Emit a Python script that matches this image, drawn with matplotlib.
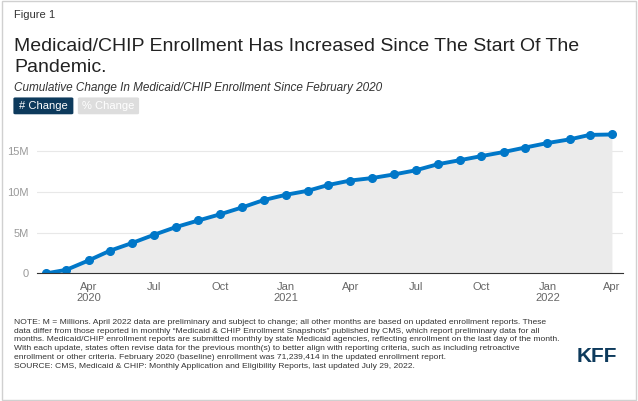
import matplotlib.pyplot as plt
from matplotlib.patches import FancyBboxPatch, Rectangle
import pandas as pd

plt.rcParams["font.family"] = ["Liberation Sans", "DejaVu Sans"]

# ------------------------------------------------------------
# Data (cumulative change, millions, since Feb 2020)
# ------------------------------------------------------------
MONTHS = pd.date_range("2020-02-01", "2022-04-01", freq="MS")
CHANGE_M = [0.0, 0.45, 1.6, 2.8, 3.75, 4.74, 5.7, 6.5, 7.25, 8.1, 9.0, 9.65,
            10.15, 10.85, 11.4, 11.7, 12.15, 12.65, 13.4, 13.9, 14.4, 14.9,
            15.45, 16.0, 16.45, 17.0, 17.05]
Y_TICKS = [0, 5, 10, 15]
Y_LABELS = ["0", "5M", "10M", "15M"]

BLUE = "#0077c8"
GREY_TXT = "#999999"

fig = plt.figure(figsize=(6.38, 4.01), dpi=100)
fig.patches.append(Rectangle((0.003, 0.003), 0.994, 0.994, transform=fig.transFigure,
                             fill=False, edgecolor="#d0d0d0", lw=1))

fig.text(0.022, 0.962, "Figure 1", fontsize=8, color="#333333", va="center")
fig.text(0.022, 0.885, "Medicaid/CHIP Enrollment Has Increased Since The Start Of The",
         fontsize=14, color="#222222", va="center")
fig.text(0.022, 0.832, "Pandemic.", fontsize=14, color="#222222", va="center")
fig.text(0.022, 0.780, "Cumulative Change In Medicaid/CHIP Enrollment Since February 2020",
         fontsize=8.5, style="italic", color="#333333", va="center")

fig.patches.append(FancyBboxPatch((0.024, 0.718), 0.088, 0.036, transform=fig.transFigure,
                                  boxstyle="round,pad=0.003", fc="#0d3a5c", ec="none"))
fig.text(0.068, 0.736, "# Change", fontsize=8, color="white", ha="center", va="center")
fig.patches.append(FancyBboxPatch((0.125, 0.718), 0.09, 0.036, transform=fig.transFigure,
                                  boxstyle="round,pad=0.003", fc="#dddddd", ec="none"))
fig.text(0.170, 0.736, "% Change", fontsize=8, color="white", ha="center", va="center")

ax = fig.add_axes([0.058, 0.318, 0.918, 0.37])
x = list(MONTHS)
ax.fill_between(x, CHANGE_M, 0, color="#ebebeb", lw=0)
ax.plot(x, CHANGE_M, color=BLUE, lw=2.8, marker="o", markersize=5.5)
ax.set_xlim(pd.Timestamp("2020-01-20"), pd.Timestamp("2022-04-16"))
ax.set_ylim(0, 18.2)
ax.set_yticks(Y_TICKS)
ax.set_yticklabels(Y_LABELS)
ax.grid(axis="y", color="#e8e8e8", lw=0.8)
ax.set_axisbelow(True)

ticks = pd.date_range("2020-04-01", "2022-04-01", freq="3MS")
labels = []
for t in ticks:
    lab = t.strftime("%b")
    if t.month == 1 or t == ticks[0]:
        lab += "\n" + t.strftime("%Y")
    labels.append(lab)
ax.set_xticks(list(ticks))
ax.set_xticklabels(labels)
ax.tick_params(axis="both", length=0, labelsize=8, colors=GREY_TXT, pad=6)
ax.tick_params(axis="x", colors="#666666")
for s in ["top", "right", "left"]:
    ax.spines[s].set_visible(False)
ax.spines["bottom"].set_color("#333333")

note = ("NOTE: M = Millions. April 2022 data are preliminary and subject to change; all other months are based on updated enrollment reports. These\n"
        "data differ from those reported in monthly \u201cMedicaid & CHIP Enrollment Snapshots\u201d published by CMS, which report preliminary data for all\n"
        "months. Medicaid/CHIP enrollment reports are submitted monthly by state Medicaid agencies, reflecting enrollment on the last day of the month.\n"
        "With each update, states often revise data for the previous month(s) to better align with reporting criteria, such as including retroactive\n"
        "enrollment or other criteria. February 2020 (baseline) enrollment was 71,239,414 in the updated enrollment report.\n"
        "SOURCE: CMS, Medicaid & CHIP: Monthly Application and Eligibility Reports, last updated July 29, 2022.")
fig.text(0.022, 0.205, note, fontsize=6.1, color="#333333", va="top", linespacing=1.35)
fig.text(0.968, 0.11, "KFF", fontsize=15, weight="bold", color="#0d3a5c", ha="right", va="center")

fig.savefig("out.png", dpi=100)
